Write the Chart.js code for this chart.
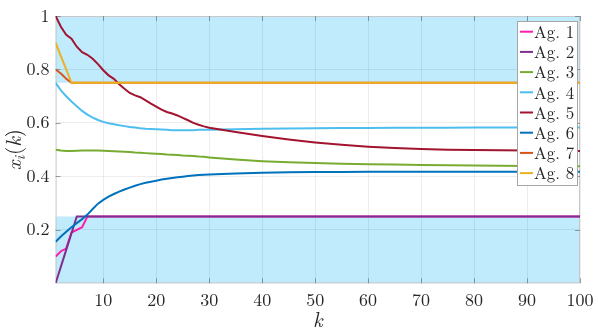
<!DOCTYPE html>
<html><head><meta charset="utf-8">
<script src="https://cdn.jsdelivr.net/npm/chart.js@4/dist/chart.umd.min.js"></script>
<style>html,body{margin:0;padding:0;background:#fff;}</style>
</head><body>
<canvas id="c" width="598" height="335"></canvas>
<script>
// ---- data ----
const kValues = [1,2,3,4,5,6,7,8,9,10,11,12,13,14,15,16,17,18,19,20,21,22,23,24,25,26,27,28,29,30,35,40,45,50,55,60,65,70,75,80,85,90,95,100];
const ag1 = [0.10,0.12,0.13,0.19,0.20,0.21,0.25,0.25,0.25,0.25,0.25,0.25,0.25,0.25,0.25,0.25,0.25,0.25,0.25,0.25,0.25,0.25,0.25,0.25,0.25,0.25,0.25,0.25,0.25,0.25,0.25,0.25,0.25,0.25,0.25,0.25,0.25,0.25,0.25,0.25,0.25,0.25,0.25,0.25];
const ag2 = [0,0.0625,0.125,0.1875,0.25,0.25,0.25,0.25,0.25,0.25,0.25,0.25,0.25,0.25,0.25,0.25,0.25,0.25,0.25,0.25,0.25,0.25,0.25,0.25,0.25,0.25,0.25,0.25,0.25,0.25,0.25,0.25,0.25,0.25,0.25,0.25,0.25,0.25,0.25,0.25,0.25,0.25,0.25,0.25];
const ag3 = [0.500,0.497,0.495,0.495,0.496,0.497,0.497,0.497,0.497,0.496,0.495,0.494,0.493,0.492,0.491,0.489,0.488,0.487,0.486,0.485,0.484,0.482,0.481,0.480,0.478,0.477,0.476,0.474,0.473,0.471,0.463,0.457,0.453,0.450,0.447,0.445,0.444,0.443,0.442,0.441,0.440,0.439,0.439,0.438];
const ag4 = [0.750,0.722,0.700,0.680,0.662,0.645,0.631,0.620,0.611,0.604,0.599,0.595,0.591,0.588,0.585,0.583,0.580,0.578,0.577,0.576,0.575,0.574,0.573,0.573,0.573,0.573,0.573,0.574,0.574,0.574,0.576,0.578,0.579,0.580,0.581,0.581,0.582,0.582,0.582,0.583,0.583,0.583,0.583,0.583];
const ag5 = [1.000,0.960,0.930,0.915,0.885,0.865,0.855,0.840,0.820,0.797,0.778,0.765,0.745,0.728,0.712,0.703,0.696,0.684,0.672,0.661,0.650,0.641,0.635,0.628,0.619,0.610,0.600,0.593,0.587,0.582,0.566,0.551,0.538,0.527,0.518,0.511,0.506,0.502,0.500,0.499,0.498,0.497,0.496,0.495];
const ag6 = [0.155,0.175,0.193,0.210,0.225,0.240,0.257,0.278,0.298,0.312,0.324,0.334,0.343,0.351,0.358,0.365,0.371,0.376,0.380,0.384,0.388,0.391,0.394,0.397,0.399,0.401,0.403,0.405,0.406,0.407,0.411,0.414,0.415,0.416,0.416,0.417,0.417,0.417,0.417,0.417,0.417,0.417,0.417,0.417];
const ag7 = [0.80,0.785,0.765,0.75,0.75,0.75,0.75,0.75,0.75,0.75,0.75,0.75,0.75,0.75,0.75,0.75,0.75,0.75,0.75,0.75,0.75,0.75,0.75,0.75,0.75,0.75,0.75,0.75,0.75,0.75,0.75,0.75,0.75,0.75,0.75,0.75,0.75,0.75,0.75,0.75,0.75,0.75,0.75,0.75];
const ag8 = [0.90,0.85,0.80,0.75,0.75,0.75,0.75,0.75,0.75,0.75,0.75,0.75,0.75,0.75,0.75,0.75,0.75,0.75,0.75,0.75,0.75,0.75,0.75,0.75,0.75,0.75,0.75,0.75,0.75,0.75,0.75,0.75,0.75,0.75,0.75,0.75,0.75,0.75,0.75,0.75,0.75,0.75,0.75,0.75];
const seriesLabels = ['Ag. 1','Ag. 2','Ag. 3','Ag. 4','Ag. 5','Ag. 6','Ag. 7','Ag. 8'];
const seriesValues = [ag1,ag2,ag3,ag4,ag5,ag6,ag7,ag8];
const xTickVals = [10,20,30,40,50,60,70,80,90,100];
const yTickVals = [0.2,0.4,0.6,0.8,1];
const bands = [[0,0.25],[0.75,1]];

// ---- styles ----
const colors = ['#FF1DAE','#7E2F8E','#77AC30','#4DBEEE','#A2142F','#0072BD','#D95319','#EDB120'];
const FONT = '"Latin Modern Roman", "Liberation Serif", serif';
const TXT = '#262626';

const datasets = seriesValues.map((vals, i) => ({
  label: seriesLabels[i],
  data: kValues.map((k, j) => ({x: k, y: vals[j]})),
  borderColor: colors[i],
  backgroundColor: colors[i],
  borderWidth: 2,
  pointRadius: 0,
  tension: 0,
  fill: false,
  order: seriesValues.length - i
}));

const decor = {
  id: 'decor',
  beforeDraw(chart) {
    const {ctx, chartArea: a, scales: {y}} = chart;
    ctx.save();
    ctx.fillStyle = '#fff';
    ctx.fillRect(0, 0, chart.width, chart.height);
    ctx.fillStyle = 'rgb(191,235,253)';
    for (const [lo, hi] of bands) {
      const yt = y.getPixelForValue(hi), yb = y.getPixelForValue(lo);
      ctx.fillRect(a.left, yt, a.right - a.left, yb - yt);
    }
    ctx.restore();
  },
  beforeDatasetsDraw(chart) {
    const {ctx, chartArea: a, scales: {x, y}} = chart;
    ctx.save();
    ctx.strokeStyle = '#c8c8c8';
    ctx.lineWidth = 1;
    ctx.strokeRect(a.left + 0.5, a.top + 0.5, a.right - a.left - 1, a.bottom - a.top - 1);
    ctx.strokeStyle = 'rgba(90,100,110,0.6)';
    ctx.beginPath();
    for (const v of xTickVals) {
      const px = Math.round(x.getPixelForValue(v)) + 0.5;
      ctx.moveTo(px, a.bottom); ctx.lineTo(px, a.bottom - 5);
      ctx.moveTo(px, a.top); ctx.lineTo(px, a.top + 5);
    }
    for (const v of yTickVals) {
      const py = Math.round(y.getPixelForValue(v)) + 0.5;
      ctx.moveTo(a.left, py); ctx.lineTo(a.left + 5, py);
      ctx.moveTo(a.right, py); ctx.lineTo(a.right - 5, py);
    }
    ctx.stroke();
    ctx.restore();
  },
  afterDraw(chart) {
    const {ctx, chartArea: a} = chart;
    ctx.save();
    // legend
    const lx = 517, ly = 21, lw = 60, lh = 164;
    ctx.fillStyle = '#fff';
    ctx.fillRect(lx, ly, lw, lh);
    ctx.strokeStyle = '#a6a6a6';
    ctx.lineWidth = 1;
    ctx.strokeRect(lx + 0.5, ly + 0.5, lw, lh);
    ctx.font = '17px ' + FONT;
    ctx.textBaseline = 'middle';
    ctx.textAlign = 'left';
    chart.data.datasets.forEach((ds, i) => {
      const cy = 31.7 + i * 20.2;
      ctx.strokeStyle = ds.borderColor;
      ctx.lineWidth = 2;
      ctx.beginPath(); ctx.moveTo(lx + 3, cy); ctx.lineTo(lx + 16, cy); ctx.stroke();
      ctx.fillStyle = TXT;
      ctx.fillText(ds.label, lx + 17, cy + 1);
    });
    // x title
    ctx.fillStyle = TXT;
    ctx.font = 'italic 21px ' + FONT;
    ctx.textAlign = 'center';
    ctx.textBaseline = 'alphabetic';
    ctx.fillText('k', (a.left + a.right) / 2, 327);
    // y title x_i(k)
    ctx.translate(21, (a.top + a.bottom) / 2);
    ctx.rotate(-Math.PI / 2);
    const parts = [
      {t: 'x', f: 'italic 21px ' + FONT, dy: 0},
      {t: 'i', f: 'italic 15px ' + FONT, dy: 4},
      {t: '(', f: '21px ' + FONT, dy: 0},
      {t: 'k', f: 'italic 21px ' + FONT, dy: 0},
      {t: ')', f: '21px ' + FONT, dy: 0}
    ];
    let total = 0;
    for (const p of parts) { ctx.font = p.f; p.w = ctx.measureText(p.t).width + (p.t === 'i' ? 1 : 0); total += p.w; }
    let cx = -total / 2;
    ctx.textAlign = 'left';
    for (const p of parts) { ctx.font = p.f; ctx.fillText(p.t, cx, p.dy); cx += p.w; }
    ctx.restore();
  }
};

new Chart(document.getElementById('c'), {
  type: 'line',
  data: {datasets},
  options: {
    responsive: false,
    devicePixelRatio: 1,
    animation: false,
    layout: {padding: {top: 16, right: 18, left: 0, bottom: 0}},
    plugins: {legend: {display: false}, tooltip: {enabled: false}},
    scales: {
      x: {
        type: 'linear', min: 1, max: 100,
        afterBuildTicks: s => { s.ticks = xTickVals.map(v => ({value: v})); },
        afterFit: s => { s.height = 51.7; s.paddingLeft = 0; s.paddingRight = 0; },
        grid: {color: 'rgba(0,0,0,0.07)', drawTicks: false},
        border: {display: false},
        ticks: {autoSkip: false, maxRotation: 0, padding: 6, color: TXT, font: {family: FONT, size: 18}, callback: v => String(v)}
      },
      y: {
        type: 'linear', min: 0, max: 1,
        afterBuildTicks: s => { s.ticks = yTickVals.map(v => ({value: v})); },
        afterFit: s => { s.width = 55.6; s.paddingTop = 0; s.paddingBottom = 0; },
        grid: {color: 'rgba(0,0,0,0.07)', drawTicks: false},
        border: {display: false},
        ticks: {padding: 6, color: TXT, font: {family: FONT, size: 18}, callback: v => (v === 1 ? '1' : v.toFixed(1))}
      }
    }
  },
  plugins: [decor]
});
</script>
</body></html>
